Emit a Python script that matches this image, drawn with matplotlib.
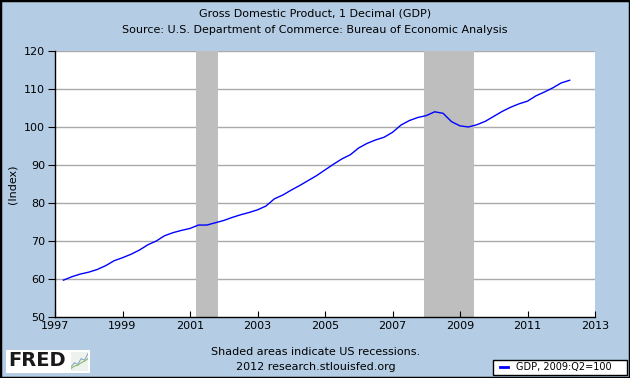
import numpy as np
import pandas as pd
import matplotlib
matplotlib.use('Agg')
import matplotlib.pyplot as plt
from matplotlib.patches import Rectangle

start_year = 1997.25
gdp_index = [
    59.7, 60.6, 61.3, 61.8, 62.5, 63.5, 64.8, 65.6, 66.5, 67.6,
    69.0, 70.0, 71.4, 72.2, 72.8, 73.3, 74.2, 74.2, 74.8, 75.4,
    76.2, 76.9, 77.5, 78.2, 79.2, 81.1, 82.1, 83.4, 84.6, 85.9,
    87.2, 88.7, 90.2, 91.6, 92.7, 94.5, 95.7, 96.6, 97.3, 98.6,
    100.5, 101.7, 102.5, 103.0, 104.0, 103.6, 101.4, 100.3, 100.0, 100.6,
    101.5, 102.8, 104.1, 105.2, 106.1, 106.8, 108.2, 109.2, 110.3, 111.6,
    112.3,
]
recessions = [(2001.17, 2001.84), (2007.92, 2009.42)]
x_ticks = [1997, 1999, 2001, 2003, 2005, 2007, 2009, 2011, 2013]
y_ticks = [50, 60, 70, 80, 90, 100, 110, 120]

years = start_year + 0.25 * np.arange(len(gdp_index))
bg = '#b4cde4'

fig = plt.figure(figsize=(6.3, 3.78), dpi=100, facecolor=bg)
ax = fig.add_axes([55 / 630, 61 / 378, 540 / 630, 266 / 378])
ax.set_facecolor('white')

for r0, r1 in recessions:
    ax.axvspan(r0, r1, color='#bebebe', lw=0, zorder=1)

for yv in y_ticks[1:]:
    ax.axhline(yv, color='#aaaaaa', lw=1, zorder=0.5)

ax.plot(years, gdp_index, color='#0000ff', lw=1, zorder=3)

ax.set_xlim(1997, 2013)
ax.set_ylim(50, 120)
ax.set_xticks(x_ticks)
ax.set_yticks(y_ticks)
ax.tick_params(axis='x', direction='in', length=4, labelsize=8, pad=3, color='black')
ax.tick_params(axis='y', direction='out', length=5, labelsize=8, pad=2, color='black')
for s in ['top', 'right']:
    ax.spines[s].set_visible(False)
for s in ['left', 'bottom']:
    ax.spines[s].set_color('black')
    ax.spines[s].set_linewidth(1)
ax.set_ylabel('(Index)', fontsize=8, labelpad=5)

fig.text(0.5, 1 - 14 / 378, 'Gross Domestic Product, 1 Decimal (GDP)',
         ha='center', va='center', fontsize=8)
fig.text(0.5, 1 - 30 / 378, 'Source: U.S. Department of Commerce: Bureau of Economic Analysis',
         ha='center', va='center', fontsize=8)
fig.text(316 / 630, 1 - 352 / 378, 'Shaded areas indicate US recessions.',
         ha='center', va='center', fontsize=8)
fig.text(316 / 630, 1 - 367 / 378, '2012 research.stlouisfed.org',
         ha='center', va='center', fontsize=8)

# FRED logo
fig.patches.append(Rectangle((6 / 630, 1 - 373 / 378), 84 / 630, 23 / 378,
                             transform=fig.transFigure, facecolor='white',
                             edgecolor='none', zorder=0.5))
fig.text(8 / 630, 1 - 361 / 378, 'FRED', ha='left', va='center',
         fontsize=14, fontweight='heavy', color='#1a1a1a', zorder=2)
icon = fig.add_axes([71 / 630, 1 - 371 / 378, 17 / 630, 19 / 378], zorder=2)
icon.set_facecolor('#eef2ee')
icon.plot([0, 1, 2, 3, 4, 5], [1, 2, 1.6, 3, 2.6, 4.2], color='#88aacc', lw=0.8)
icon.plot([0, 1, 2, 3, 4, 5], [0.6, 1.2, 1.4, 2.0, 2.4, 3.0], color='#88bb66', lw=0.8)
icon.set_xlim(0, 5)
icon.set_ylim(0, 4.6)
icon.set_xticks([])
icon.set_yticks([])
for s in icon.spines.values():
    s.set_visible(False)

# legend box
fig.patches.append(Rectangle((493 / 630, 1 - 375 / 378), 134 / 630, 15 / 378,
                             transform=fig.transFigure, facecolor='white',
                             edgecolor='black', lw=1))
fig.lines.append(plt.Line2D([500 / 630, 508 / 630], [1 - 367 / 378, 1 - 367 / 378],
                            transform=fig.transFigure, color='#0000ff', lw=2))
fig.text(516 / 630, 1 - 367 / 378, 'GDP, 2009:Q2=100', ha='left', va='center',
         fontsize=7)

# figure border
fig.patches.append(Rectangle((0, 0), 1, 1, transform=fig.transFigure,
                             facecolor='none', edgecolor='black', lw=2.5))

fig.savefig('out.png', dpi=100, facecolor=bg)
